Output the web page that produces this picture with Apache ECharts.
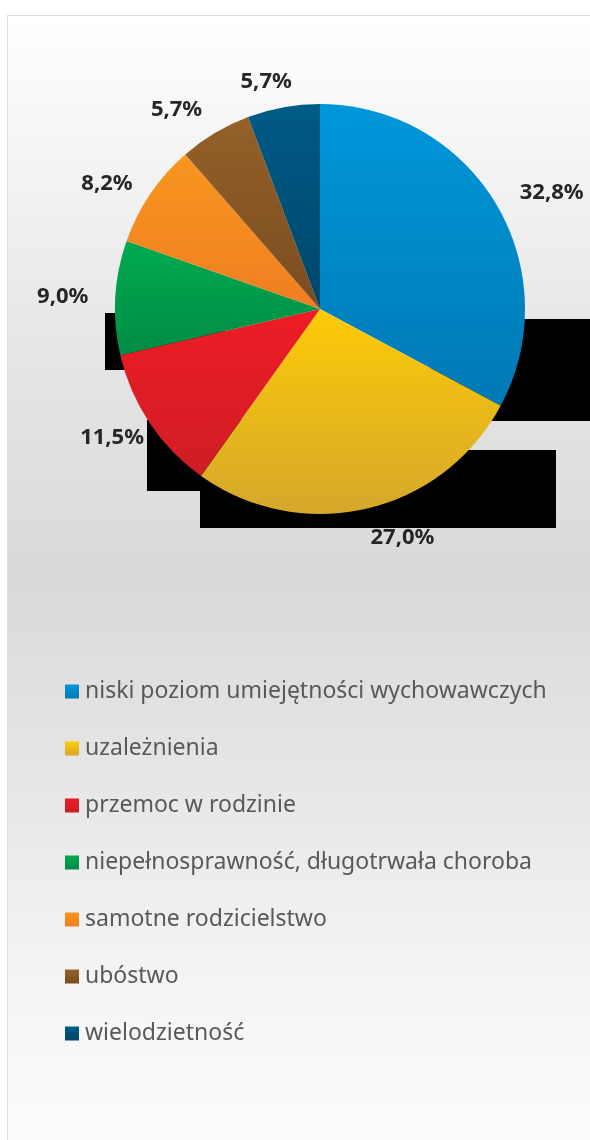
<!DOCTYPE html>
<html lang="pl">
<head>
    <meta charset="UTF-8">
    <title>Pie</title>
    <script src="https://cdn.jsdelivr.net/npm/echarts@6/dist/echarts.min.js"></script>
    <style>
        body { margin: 0; width: 590px; height: 1140px; overflow: hidden; background: #fff; }
        #panel {
            position: absolute; left: 7px; top: 15px; width: 600px; height: 1140px;
            border: 1px solid #dcdcdc;
            background: linear-gradient(to bottom, #ffffff 0px, #f8f8f8 90px, #e6e6e6 330px, #d9d9d9 560px, #e6e6e6 760px, #f4f4f4 960px, #fcfcfc 1125px);
        }
        #chart { position: absolute; left: 0; top: 0; width: 590px; height: 1140px; }
    </style>
</head>
<body>
<div id="panel"></div>
<div id="chart"></div>
<script type="text/javascript">
    // dane
    var categories = ['niski poziom umiejętności wychowawczych', 'uzależnienia', 'przemoc w rodzinie',
        'niepełnosprawność, długotrwała choroba', 'samotne rodzicielstwo', 'ubóstwo', 'wielodzietność']
    var values = [32.8, 27.0, 11.5, 9.0, 8.2, 5.7, 5.7]
    // kolory: góra / dół gradientu
    var colorsTop = ['#0097da', '#fdcb07', '#ee1c25', '#00aa4f', '#f8961e', '#94602a', '#005b87']
    var colorsBottom = ['#0079b5', '#d6a72b', '#cf1d25', '#008c45', '#ef7e22', '#7a4c1f', '#00466a']
    // odsunięcie etykiet od brzegu koła i przesunięcie w poziomie
    var labelLen = [22, 30, 26, 22, 19, 27, 26]
    var labelDx = [0, -8, 21, 0, 3, 6, 18]

    var chart = echarts.init(document.getElementById('chart'))

    var pieData = []
    for (let i = 0; i < categories.length; i++) {
        pieData.push({
            name: categories[i],
            value: values[i],
            itemStyle: {
                color: new echarts.graphic.LinearGradient(0, 0, 0, 1, [
                    {offset: 0, color: colorsTop[i]},
                    {offset: 1, color: colorsBottom[i]}
                ])
            },
            labelLine: {length: labelLen[i], length2: 0}
        })
    }

    var option = {
        animation: false,
        // czarne prostokąty z oryginału
        graphic: [
            {type: 'rect', z: 0, shape: {x: 430, y: 319, width: 170, height: 102}, style: {fill: '#000'}},
            {type: 'rect', z: 0, shape: {x: 200, y: 450, width: 356, height: 78}, style: {fill: '#000'}},
            {type: 'rect', z: 0, shape: {x: 147, y: 420, width: 120, height: 71}, style: {fill: '#000'}},
            {type: 'rect', z: 0, shape: {x: 105, y: 313, width: 120, height: 57}, style: {fill: '#000'}}
        ],
        legend: {
            orient: 'vertical',
            left: 60,
            top: 675,
            itemWidth: 14,
            itemHeight: 14,
            itemGap: 34,
            icon: 'rect',
            textStyle: {
                fontFamily: 'Noto Sans',
                fontSize: 23,
                color: '#595959',
                padding: [0, 0, 0, 1]
            },
            data: categories
        },
        series: [
            {
                type: 'pie',
                z: 2,
                center: [320, 309],
                radius: 205,
                startAngle: 90,
                clockwise: true,
                avoidLabelOverlap: false,
                label: {
                    show: true,
                    position: 'outside',
                    formatter: function (p) {
                        return p.value.toFixed(1).replace('.', ',') + '%'
                    },
                    fontFamily: 'Noto Sans',
                    fontWeight: 'bold',
                    fontSize: 22,
                    color: '#262626'
                },
                labelLine: {
                    show: false
                },
                labelLayout: function (params) {
                    return {dx: labelDx[params.dataIndex]}
                },
                data: pieData
            }
        ]
    }

    chart.setOption(option)
</script>
</body>
</html>
